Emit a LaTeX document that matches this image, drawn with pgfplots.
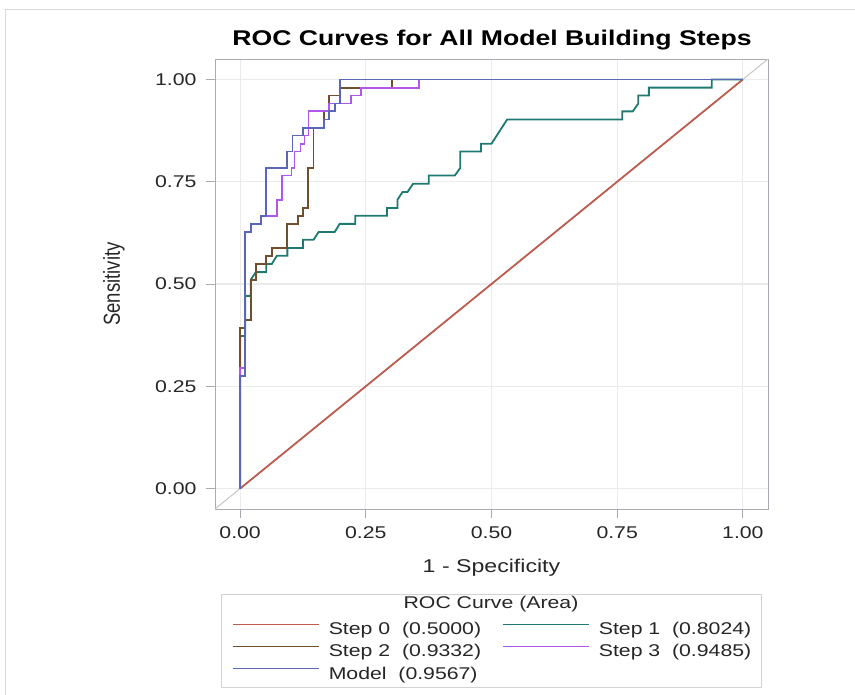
\documentclass[border=0pt]{standalone}
\usepackage{fontspec}
\setmainfont{Liberation Sans}[FakeStretch=1.25]
\newfontfamily\plainsans{Liberation Sans}
\usepackage{graphicx}
\usepackage{pgfplots}
\pgfplotsset{compat=1.18}

\definecolor{stepzero}{RGB}{188,92,78}
\definecolor{stepone}{RGB}{30,122,112}
\definecolor{steptwo}{RGB}{112,80,44}
\definecolor{stepthree}{RGB}{176,88,236}
\definecolor{model}{RGB}{92,102,182}
\definecolor{framegray}{RGB}{168,172,178}
\definecolor{gridgray}{RGB}{235,235,235}

\newcommand{\entry}[1]{\makebox[164pt][l]{#1}}

\begin{document}
\begin{tikzpicture}
\path[use as bounding box] (0pt,0pt) rectangle (855pt,-695pt);
\draw[gray!30] (5pt,-695pt) -- (5pt,-9pt) -- (855pt,-9pt);
\node[font=\fontsize{21.3}{25}\selectfont\bfseries] at (492pt,-40pt) {ROC Curves for All Model Building Steps};

\begin{axis}[
    at={(215pt,-509pt)}, anchor=south west,
    scale only axis, width=553pt, height=450pt,
    xmin=-0.05, xmax=1.05, ymin=-0.05, ymax=1.05,
    xtick={0,0.25,0.5,0.75,1}, ytick={0,0.25,0.5,0.75,1},
    tick pos=left, tick align=outside,
    major tick length=9pt,
    tick style={framegray, line width=0.8pt},
    axis line style={framegray, line width=0.8pt},
    grid=major,
    major grid style={gridgray, line width=1.2pt},
    ticklabel style={font=\fontsize{17}{20}\selectfont, text=black!85},
    xticklabel style={yshift=-5pt, /pgf/number format/.cd, fixed, fixed zerofill, precision=2, assume math mode=true},
    yticklabel style={xshift=-6pt, /pgf/number format/.cd, fixed, fixed zerofill, precision=2, assume math mode=true},
    xlabel={1 - Specificity},
    xlabel style={at={(axis description cs:0.5,-0.131)}, anchor=center, font=\fontsize{18.5}{22}\selectfont, text=black!85},
    ylabel={\scalebox{1}[1.25]{\plainsans Sensitivity}},
    ylabel style={at={(axis description cs:-0.183,0.5)}, anchor=center, font=\fontsize{18.5}{22}\selectfont, text=black!85},
    legend columns=2,
    legend cell align=left,
    legend style={at={(axis description cs:0.0307,-0.247)}, anchor=north west,
        draw=none, fill=none, inner sep=0pt, row sep=4.5pt, column sep=7.5pt,
        font=\fontsize{17}{20}\selectfont, text=black!85},
    legend image code/.code={\draw[#1] (0pt,5pt) -- (86pt,5pt);},
    legend image post style={line width=1.1pt},
]

\addplot[gray!45, line width=1pt, forget plot] coordinates {(-0.05,-0.05) (1.05,1.05)};

\addplot[stepzero, line width=1.8pt] coordinates {(0,0) (1,1)};
\addlegendentry{\entry{Step 0\ \ (0.5000)}}

\addplot[stepone, line width=1.8pt] coordinates {
    (0,0) (0,0.373) (0.010,0.373) (0.010,0.471) (0.021,0.471) (0.021,0.510)
    (0.031,0.529) (0.052,0.529) (0.052,0.549) (0.063,0.549) (0.073,0.569)
    (0.094,0.569) (0.094,0.588) (0.125,0.588) (0.125,0.608) (0.146,0.608)
    (0.156,0.627) (0.188,0.627) (0.198,0.647) (0.229,0.647) (0.229,0.667)
    (0.292,0.667) (0.292,0.686) (0.313,0.686) (0.313,0.706) (0.323,0.725)
    (0.333,0.725) (0.344,0.745) (0.375,0.745) (0.375,0.765) (0.427,0.765)
    (0.438,0.784) (0.438,0.824) (0.479,0.824) (0.479,0.843) (0.500,0.843)
    (0.531,0.902) (0.760,0.902) (0.760,0.922) (0.781,0.922) (0.792,0.941)
    (0.792,0.961) (0.813,0.961) (0.813,0.980) (0.938,0.980) (0.938,1) (1,1)
};
\addlegendentry{\entry{Step 1\ \ (0.8024)}}

\addplot[steptwo, line width=1.8pt] coordinates {
    (0,0) (0,0.392) (0.010,0.392) (0.010,0.412) (0.021,0.412) (0.021,0.510)
    (0.031,0.510) (0.031,0.549) (0.052,0.549) (0.052,0.569) (0.063,0.569)
    (0.063,0.588) (0.094,0.588) (0.094,0.647) (0.115,0.647) (0.115,0.667)
    (0.125,0.667) (0.125,0.686) (0.135,0.686) (0.135,0.784) (0.146,0.784)
    (0.146,0.882) (0.167,0.882) (0.167,0.922) (0.177,0.922) (0.177,0.961)
    (0.198,0.961) (0.198,0.980) (0.302,0.980) (0.302,1) (1,1)
};
\addlegendentry{\entry{Step 2\ \ (0.9332)}}

\addplot[stepthree, line width=1.8pt] coordinates {
    (0,0) (0,0.294) (0.010,0.294) (0.010,0.627) (0.021,0.627) (0.021,0.647)
    (0.042,0.647) (0.042,0.667) (0.073,0.667) (0.073,0.706) (0.083,0.706)
    (0.083,0.765) (0.102,0.765) (0.102,0.784) (0.108,0.784) (0.108,0.824)
    (0.120,0.824) (0.120,0.843) (0.128,0.843) (0.128,0.863) (0.136,0.863)
    (0.136,0.922) (0.177,0.922) (0.177,0.941) (0.221,0.941) (0.221,0.961)
    (0.241,0.961) (0.241,0.980) (0.355,0.980) (0.355,1) (1,1)
};
\addlegendentry{\entry{Step 3\ \ (0.9485)}}

\addplot[model, line width=1.8pt] coordinates {
    (0,0) (0,0.275) (0.010,0.275) (0.010,0.627) (0.021,0.627) (0.021,0.647)
    (0.042,0.647) (0.042,0.667) (0.052,0.667) (0.052,0.784) (0.094,0.784)
    (0.094,0.824) (0.104,0.824) (0.104,0.863) (0.125,0.863) (0.125,0.882)
    (0.167,0.882) (0.167,0.902) (0.177,0.902) (0.177,0.922) (0.188,0.922)
    (0.188,0.941) (0.198,0.941) (0.198,1) (1,1)
};
\addlegendentry{\entry{Model\ \ (0.9567)}}

\end{axis}

\draw[gray!35] (221pt,-594pt) rectangle (761pt,-687pt);
\node[font=\fontsize{17}{20}\selectfont, text=black!85] at (491pt,-604pt) {ROC Curve (Area)};
\end{tikzpicture}
\end{document}
